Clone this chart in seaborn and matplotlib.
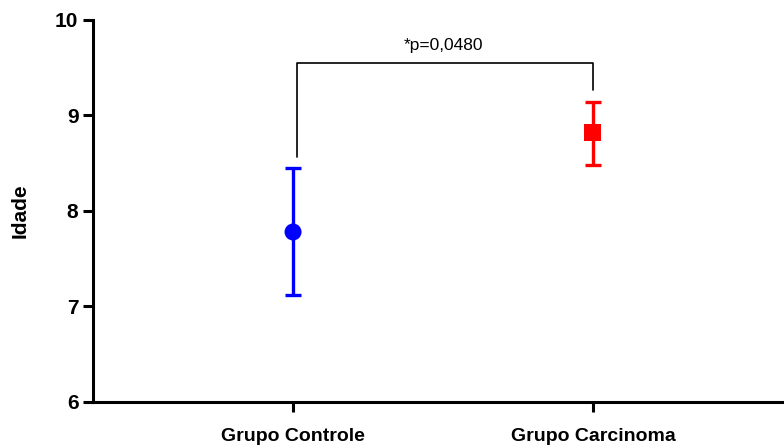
import matplotlib
matplotlib.use("Agg")
import matplotlib.pyplot as plt
import seaborn as sns
import pandas as pd

# values
groups = ["Grupo Controle", "Grupo Carcinoma"]
means = [7.78, 8.82]
upper = [8.45, 9.14]
lower = [7.12, 8.48]
colors = ["#0000ff", "#ff0000"]
markers = ["o", "s"]
p_text = "*p=0,0480"

df = pd.DataFrame({"grupo": groups, "idade": means})

sns.set_theme(style="ticks")
plt.rcParams["font.family"] = ["Liberation Sans", "DejaVu Sans"]
plt.rcParams["text.color"] = "black"
plt.rcParams["xtick.color"] = "black"
plt.rcParams["ytick.color"] = "black"
plt.rcParams["axes.labelcolor"] = "black"
plt.rcParams["axes.edgecolor"] = "black"

fig = plt.figure(figsize=(7.84, 4.47), dpi=100)
ax = fig.add_axes([0.1186, 0.1007, 0.8814, 0.8546])

# error bars first so the markers sit on top
for i, g in enumerate(groups):
    ax.errorbar(i, means[i],
                yerr=[[means[i] - lower[i]], [upper[i] - means[i]]],
                color=colors[i], lw=2.4, capsize=5.8, capthick=2.4, zorder=2)

sns.scatterplot(data=df, x="grupo", y="idade", hue="grupo", style="grupo",
                palette=colors, markers=markers, s=150, edgecolor="none",
                legend=False, ax=ax, zorder=3)

# significance bracket
yb = 9.55
ax.plot([0.013, 0.013, 1, 1], [8.57, yb, yb, 9.27], color="black", lw=1.2,
        zorder=1)
ax.text(0.5, 9.69, p_text, ha="center", va="baseline", fontsize=12.5)

ax.set_ylim(6, 10)
ax.set_xlim(-0.667, 1.637)
ax.set_yticks([6, 7, 8, 9, 10])
ax.set_xticks([0, 1])
ax.set_xticklabels(groups, fontsize=14, fontweight="bold")
ax.tick_params(axis="y", labelsize=15, width=2.2, length=7)
ax.tick_params(axis="x", width=2.2, length=7, pad=12)
for lab in ax.get_yticklabels():
    lab.set_fontweight("bold")
ax.set_xlabel("")
ax.set_ylabel("Idade", fontsize=15, fontweight="bold", labelpad=18)

sns.despine(ax=ax)
ax.spines["left"].set_linewidth(2.2)
ax.spines["bottom"].set_linewidth(2.2)

fig.savefig("out.png", dpi=100)
